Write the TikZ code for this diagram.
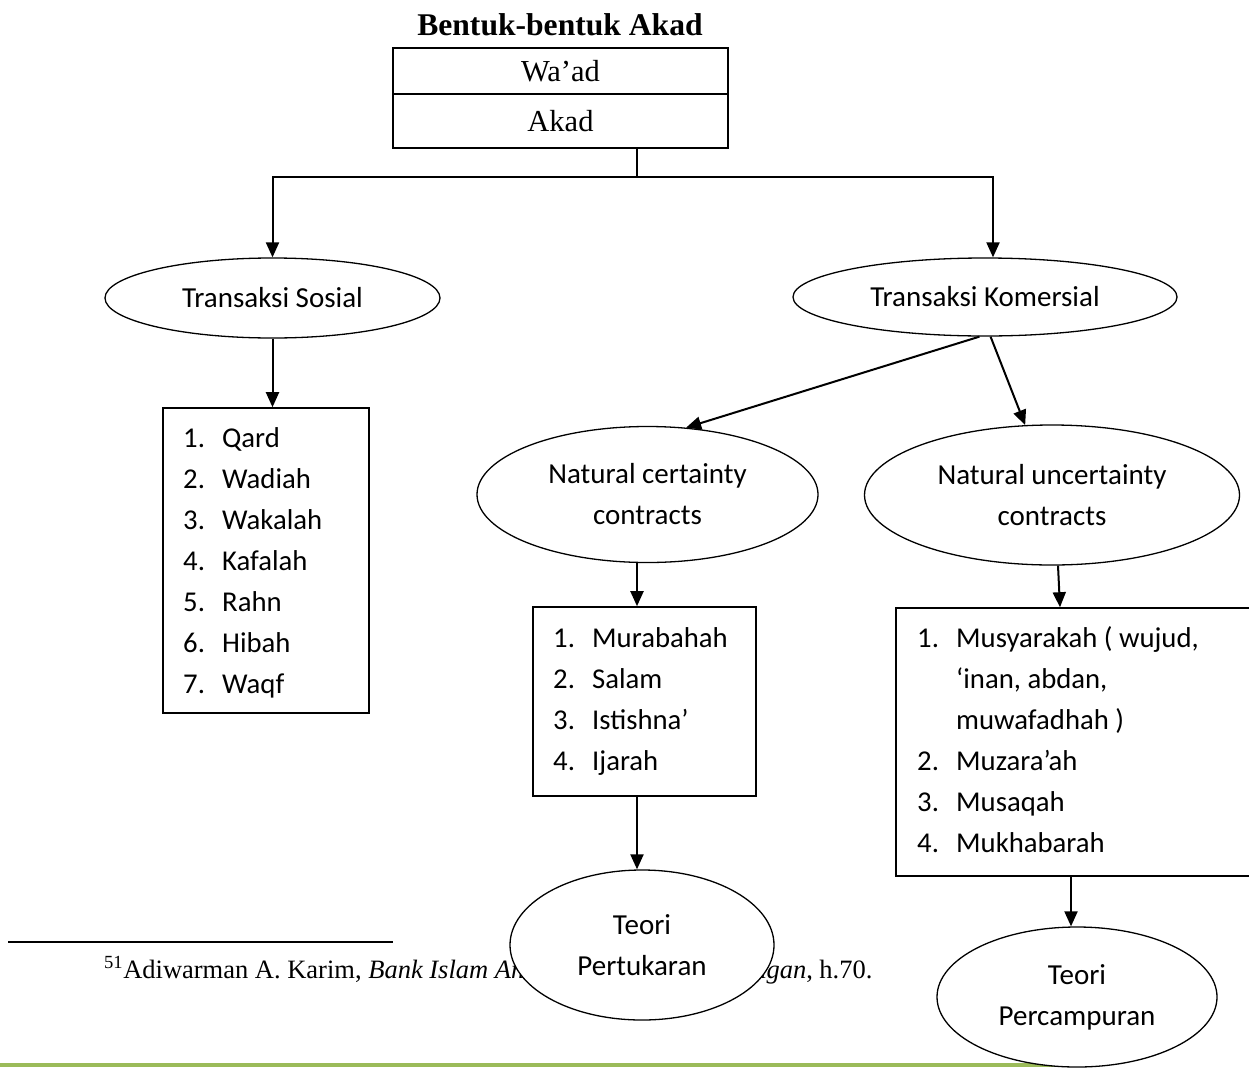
\documentclass[tikz,border=0pt]{standalone}
\usepackage{fontspec}
\setmainfont{Liberation Serif}
\newfontfamily\calfont{Carlito}
\usetikzlibrary{arrows.meta,shapes.geometric}
\definecolor{olivegreen}{RGB}{155,187,89}
\newcommand\myitem[2]{\makebox[39pt][l]{#1}#2}
\begin{document}
\begin{tikzpicture}[x=1pt,y=-1pt,
  box/.style={draw,line width=1.6pt,rectangle,inner sep=0pt},
  hbox/.style={box,font=\fontsize{30.5}{30.5}\selectfont,text height=20.7pt,text depth=0pt},
  oval/.style={draw,line width=1.3pt,ellipse,inner sep=0pt,fill=white,align=center,
    font=\calfont\fontsize{29}{41}\selectfont},
  item/.style={anchor=base west,inner sep=0pt,font=\calfont\fontsize{28.7}{41}\selectfont},
  arr/.style={line width=2pt,-{Triangle[length=15pt,width=13pt]}},
  ln/.style={line width=2pt}]
\useasboundingbox (0,0) rectangle (1249,1068);
\clip (0,0) rectangle (1249,1068);
\fill[white] (0,0) rectangle (1249,1068);

% title and header boxes
\node[anchor=base,inner sep=0pt,font=\bfseries\fontsize{31.6}{31.6}\selectfont] (title) at (560,35) {Bentuk-bentuk Akad};
\node[hbox,minimum width=335pt,minimum height=46pt] (wad) at (560.5,71) {Wa’ad};
\node[hbox,minimum width=335pt,minimum height=54pt] (akad) at (560.5,121) {Akad};

% first level ellipses
\node[oval,minimum width=335pt,minimum height=80pt] (TS) at (272.5,298) {Transaksi Sosial};
\node[oval,minimum width=384pt,minimum height=78pt] (TK) at (985,297) {Transaksi Komersial};

% list box 1
\node[box,minimum width=206pt,minimum height=305pt] (B1) at (266,560.5) {};
\node[item] (i11) at (183,447) {\myitem{1.}{Qard}};
\node[item] (i12) at (183,488) {\myitem{2.}{Wadiah}};
\node[item] (i13) at (183,529) {\myitem{3.}{Wakalah}};
\node[item] (i14) at (183,570) {\myitem{4.}{Kafalah}};
\node[item] (i15) at (183,611) {\myitem{5.}{Rahn}};
\node[item] (i16) at (183,652) {\myitem{6.}{Hibah}};
\node[item] (i17) at (183,693) {\myitem{7.}{Waqf}};

% second level ellipses
\node[oval,minimum width=341pt,minimum height=136pt] (NC) at (647.5,494.5) {Natural certainty\\contracts};
\node[oval,minimum width=375pt,minimum height=140pt] (NU) at (1052,495) {Natural uncertainty\\contracts};

% list box 2
\node[box,minimum width=223pt,minimum height=189pt] (B2) at (644.5,701.5) {};
\node[item] (i21) at (553,647) {\myitem{1.}{Murabahah}};
\node[item] (i22) at (553,688) {\myitem{2.}{Salam}};
\node[item] (i23) at (553,729) {\myitem{3.}{Istishna’}};
\node[item] (i24) at (553,770) {\myitem{4.}{Ijarah}};

% list box 3
\node[box,minimum width=366pt,minimum height=268pt] (B3) at (1079,742) {};
\node[item] (i31) at (917,647) {\myitem{1.}{Musyarakah ( wujud,}};
\node[item] (i31b) at (956,688) {‘inan, abdan,};
\node[item] (i31c) at (956,729) {muwafadhah )};
\node[item] (i32) at (917,770) {\myitem{2.}{Muzara’ah}};
\node[item] (i33) at (917,811) {\myitem{3.}{Musaqah}};
\node[item] (i34) at (917,852) {\myitem{4.}{Mukhabarah}};

% footnote
\draw[line width=2.2pt] (8,942) -- (393,942);
\node[anchor=base west,inner sep=0pt,font=\fontsize{26.5}{26.5}\selectfont] (fn) at (104,978)
  {\textsuperscript{51}Adiwarman A. Karim, \textit{Bank Islam Analisis Fiqih dan Keuangan}, h.70.};

% green page line
\draw[line width=3.5pt,olivegreen] (0,1065) -- (1077,1065);

% theory ellipses
\node[oval,minimum width=264pt,minimum height=150pt] (TP) at (642,945) {Teori\\Pertukaran};
\node[oval,minimum width=280pt,minimum height=140pt] (TPc) at (1077,997) {Teori\\Percampuran};

% connectors
\coordinate (J) at (637,177);
\coordinate (Kx) at (993,0);
\coordinate (c2) at (637,0);
\coordinate (c3a) at (1058,0);
\coordinate (c3b) at (1060,0);
\coordinate (c4) at (1071,0);
\draw[ln] (akad.south -| J) -- (J);
\draw[arr] (J) -| (TS.north);
\draw[arr] (J) -| (TK.north -| Kx);
\draw[arr] (TS.south) -- (TS.south |- B1.north);
\draw[arr] (TK.262) -- (NC.60);
\draw[arr] (TK.278) -- (NU.111);
\draw[arr] (NC.south -| c2) -- (B2.north -| c2);
\draw[arr] (B2.south -| c2) -- (TP.north -| c2);
\draw[arr] (NU.south -| c3a) -- (B3.north -| c3b);
\draw[arr] (B3.south -| c4) -- (TPc.north -| c4);
\end{tikzpicture}
\end{document}
